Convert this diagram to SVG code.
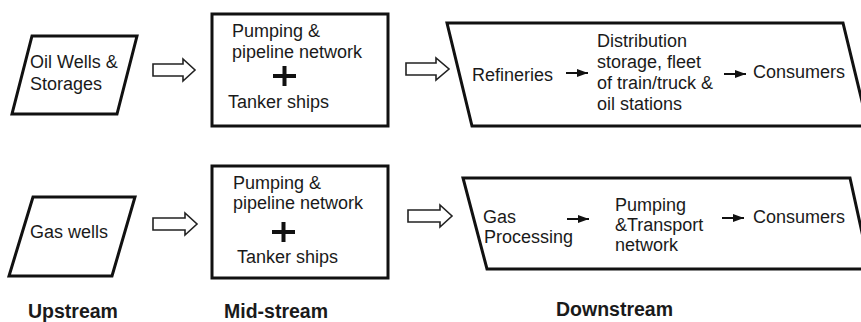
<svg xmlns="http://www.w3.org/2000/svg" width="861" height="322" viewBox="0 0 861 322">
  <style>
    .box { fill: #fff; stroke: #111; stroke-width: 3; stroke-linejoin: miter; }
    .t { font-family: "Liberation Sans", Arial, sans-serif; font-size: 18px; fill: #1a1a1a; }
    .h { font-family: "Liberation Sans", Arial, sans-serif; font-size: 19.5px; font-weight: bold; fill: #1a1a1a; }
    .hollow { fill: #fff; stroke: #222; stroke-width: 1.6; stroke-linejoin: miter; }
    .link { stroke: #111; stroke-width: 2; fill: none; }
    .plus { stroke: #111; stroke-width: 4; }
  </style>
  <defs>
    <marker id="head" viewBox="0 0 11 8" refX="11" refY="4" markerWidth="11" markerHeight="8" markerUnits="userSpaceOnUse" orient="auto">
      <path d="M0,0 L11,4 L0,8 Z" fill="#111"/>
    </marker>
  </defs>
  <rect width="861" height="322" fill="#fff"/>

  <!-- Oil chain -->
  <g id="oil-wells">
    <polygon class="box" points="32,36 137,36 117,114 12,114"/>
    <text class="t" x="30" y="68">Oil Wells &amp;</text>
    <text class="t" x="30" y="90">Storages</text>
  </g>
  <g id="oil-midstream">
    <rect class="box" x="212" y="14" width="176" height="112"/>
    <text class="t" x="232" y="37">Pumping &amp;</text>
    <text class="t" x="232" y="58">pipeline network</text>
    <path class="plus" d="M273,76 H296 M284.5,66 V86"/>
    <text class="t" x="228" y="108">Tanker ships</text>
  </g>
  <g id="oil-downstream">
    <polygon class="box" points="447,23 843,23 868,126 472,126"/>
    <text class="t" x="472" y="81">Refineries</text>
    <text class="t" x="597" y="47">Distribution</text>
    <text class="t" x="597" y="68">storage, fleet</text>
    <text class="t" x="597" y="89">of train/truck &amp;</text>
    <text class="t" x="597" y="110">oil stations</text>
    <text class="t" x="753" y="78">Consumers</text>
  </g>

  <!-- Gas chain -->
  <g id="gas-wells">
    <polygon class="box" points="33,197 135,197 112,276 9,276"/>
    <text class="t" x="30" y="238">Gas wells</text>
  </g>
  <g id="gas-midstream">
    <rect class="box" x="212" y="166" width="176" height="112"/>
    <text class="t" x="233" y="189">Pumping &amp;</text>
    <text class="t" x="233" y="209">pipeline network</text>
    <path class="plus" d="M272,232 H295 M283.5,222 V242"/>
    <text class="t" x="237" y="263">Tanker ships</text>
  </g>
  <g id="gas-downstream">
    <polygon class="box" points="463,178 850,178 870,269 487,269"/>
    <text class="t" x="483" y="223">Gas</text>
    <text class="t" x="484" y="243">Processing</text>
    <text class="t" x="615" y="211">Pumping</text>
    <text class="t" x="615" y="231">&amp;Transport</text>
    <text class="t" x="615" y="251">network</text>
    <text class="t" x="753" y="223">Consumers</text>
  </g>

  <!-- Stage labels -->
  <g id="labels">
    <text class="h" x="28" y="318">Upstream</text>
    <text class="h" x="224" y="318">Mid-stream</text>
    <text class="h" x="556" y="316">Downstream</text>
  </g>

  <!-- Connectors -->
  <g id="connectors">
    <path class="hollow" d="M153,64 H183 V59 L195,70 L183,81 V76 H153 Z"/>
    <path class="hollow" d="M406,63 H436 V58 L449,69 L436,80 V75 H406 Z"/>
    <path class="hollow" d="M153,218 H185 V213 L197,224 L185,235 V230 H153 Z"/>
    <path class="hollow" d="M408,210 H440 V205 L452,216 L440,227 V222 H408 Z"/>
    <line class="link" x1="566" y1="73" x2="588" y2="73" marker-end="url(#head)"/>
    <line class="link" x1="724" y1="74" x2="746" y2="74" marker-end="url(#head)"/>
    <line class="link" x1="567" y1="219" x2="589" y2="219" marker-end="url(#head)"/>
    <line class="link" x1="722" y1="218" x2="744" y2="218" marker-end="url(#head)"/>
  </g>
</svg>
